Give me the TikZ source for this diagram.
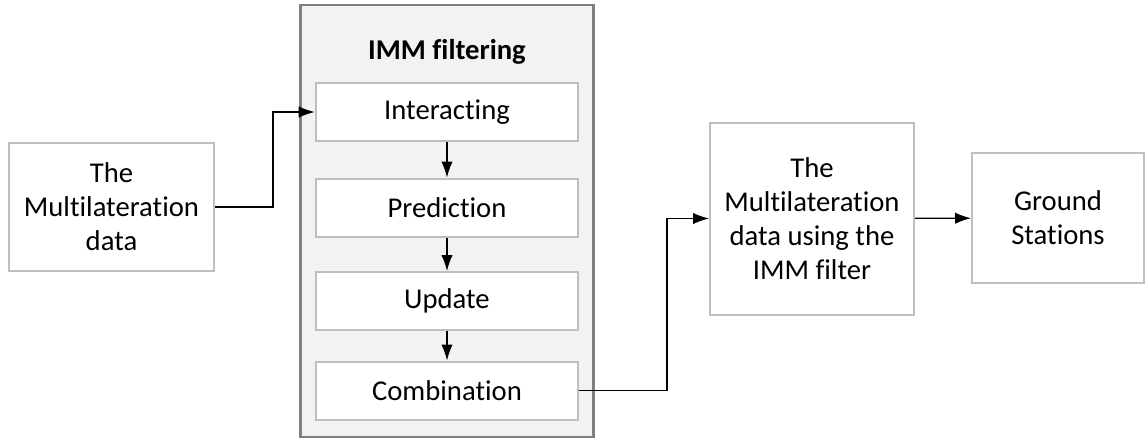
\documentclass[tikz,border=0pt]{standalone}
\usepackage{fontspec}
\setmainfont[Ligatures=NoCommon]{Carlito}
\usetikzlibrary{arrows.meta}
\definecolor{boxline}{HTML}{BFBFBF}
\definecolor{frameline}{HTML}{7F7F7F}
\definecolor{framefill}{HTML}{F2F2F2}
\begin{document}
\begin{tikzpicture}[x=0.75pt, y=-0.75pt,
  every node/.style={align=center, font=\fontsize{21.5}{25.5}\selectfont},
  block/.style={draw=boxline, line width=1.5pt, fill=white, inner sep=0pt},
  flow/.style={-{Latex[length=12pt, width=8.5pt]}, line width=0.9pt}]
  \useasboundingbox (0,0) rectangle (1147,440);

  % IMM filtering frame
  \node[draw=frameline, fill=framefill, line width=2pt, minimum width=220pt, minimum height=324pt] (imm) at (447,221) {};
  \node[font=\fontsize{21.5}{25.5}\selectfont\bfseries] (title) at (447,52) {IMM filtering};

  % Steps inside the frame
  \node[block, minimum width=197pt, minimum height=43.5pt] (inter) at (447,112) {Interacting};
  \node[block, minimum width=197pt, minimum height=43.5pt] (pred) at (447,207.5) {Prediction};
  \node[block, minimum width=197pt, minimum height=43.5pt] (upd) at (447,301) {Update};
  \node[block, minimum width=197pt, minimum height=43.5pt] (comb) at (447,390.5) {Combination};

  % Outside blocks
  \node[block, minimum width=154pt, minimum height=96pt] (src) at (111.5,207) {The\\Multilateration\\data};
  \node[block, minimum width=153pt, minimum height=144pt] (out) at (812,218.5) {The\\Multilateration\\data using the\\IMM filter};
  \node[block, minimum width=129pt, minimum height=97pt] (gs) at (1058,218) {Ground\\Stations};

  \coordinate (k1) at (273,0);
  \coordinate (k2) at (667,0);

  % Connectors
  \draw[flow] (src.east) -| (k1 |- inter.west) -- (inter.west);
  \draw[flow] (inter) -- (pred);
  \draw[flow] (pred) -- (upd);
  \draw[flow] (upd) -- (comb);
  \draw[flow] (comb.east) -| (k2 |- out.west) -- (out.west);
  \draw[flow] (out) -- (gs);
\end{tikzpicture}
\end{document}
